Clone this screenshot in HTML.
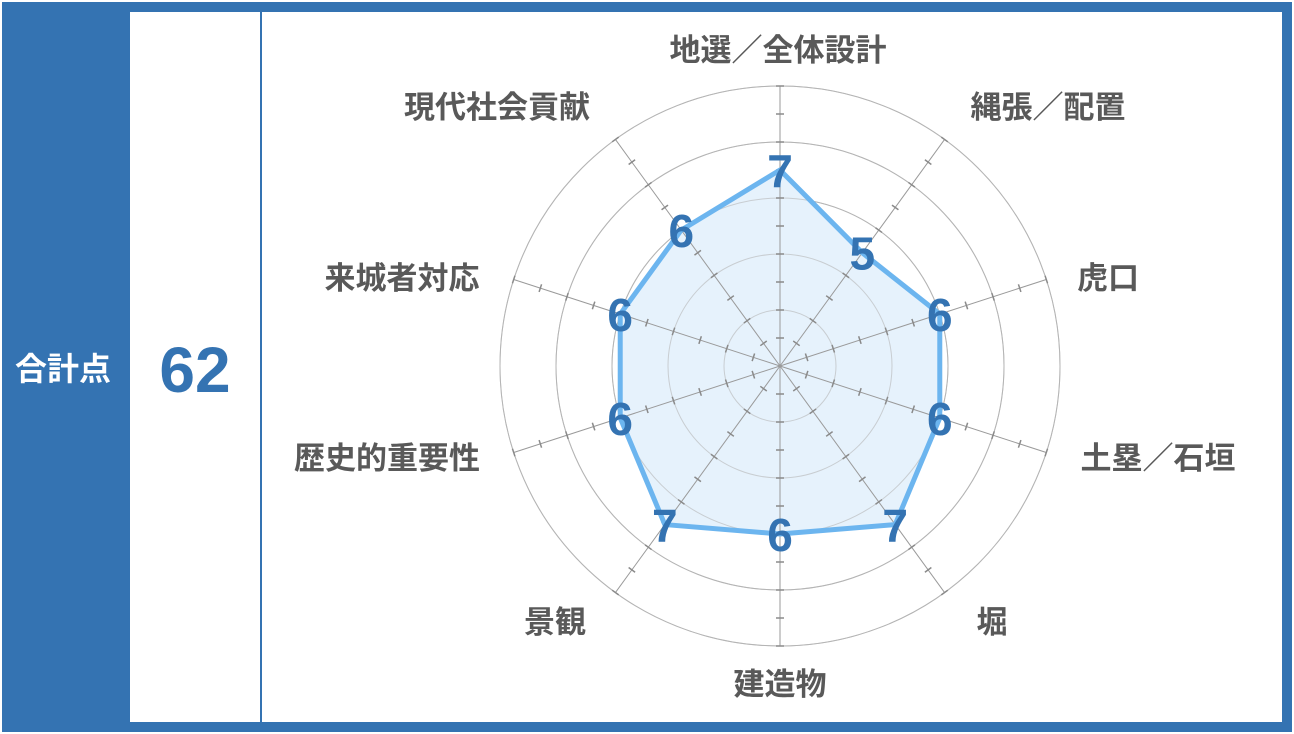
<!DOCTYPE html>
<html><head><meta charset="utf-8"><style>
html,body{margin:0;padding:0;background:#fff;}
svg{display:block;}
</style></head><body>
<svg width="1294" height="734" viewBox="0 0 1294 734" xmlns="http://www.w3.org/2000/svg" font-family="Liberation Sans, Noto Sans CJK JP, sans-serif">
<rect x="0" y="0" width="1294" height="734" fill="#fff"/>
<rect x="2" y="2" width="1290" height="730" fill="#3473b2"/>
<rect x="130" y="12" width="1152" height="710" fill="#fff"/>
<rect x="260" y="12" width="2" height="710" fill="#3473b2"/>
<text x="63" y="380" fill="#fff" font-size="32" font-weight="bold" text-anchor="middle">合計点</text>
<text x="195" y="392" fill="#3473b2" font-size="64" font-weight="bold" text-anchor="middle">62</text>
<g id="chart"></g>
<script>
(function(){
var cx=780,cy=366,ns="http://www.w3.org/2000/svg",g=document.getElementById('chart');
function el(t,a,txt){var e=document.createElementNS(ns,t);for(var k in a)e.setAttribute(k,a[k]);if(txt)e.textContent=txt;g.appendChild(e);return e;}
for(var i=1;i<=5;i++)el('circle',{cx:cx,cy:cy,r:56*i,fill:'none',stroke:'#b4b4b4','stroke-width':1});
var vals=[7,5,6,6,7,6,7,6,6,6];
var pts=[];
for(var k=0;k<10;k++){var a=k*Math.PI/5;var s=Math.sin(a),c=-Math.cos(a);pts.push([cx+s*28*vals[k],cy+c*28*vals[k]]);}
el('polygon',{points:pts.map(function(p){return p.join(',')}).join(' '),fill:'#e6f2fc',stroke:'none'});
for(var i=1;i<=5;i++)el('circle',{cx:cx,cy:cy,r:56*i,fill:'none',stroke:'#b4b4b4','stroke-width':1,opacity:0.6});
for(var k=0;k<10;k++){var a=k*Math.PI/5;var s=Math.sin(a),c=-Math.cos(a);
el('line',{x1:cx,y1:cy,x2:cx+s*280,y2:cy+c*280,stroke:'#9a9a9a','stroke-width':1});
for(var t=1;t<=10;t++){var r=28*t,px=cx+s*r,py=cy+c*r;el('line',{x1:px-c*4,y1:py+s*4,x2:px+c*4,y2:py-s*4,stroke:'#8a8a8a','stroke-width':1.5});}}
el('polygon',{points:pts.map(function(p){return p.join(',')}).join(' '),fill:'none',stroke:'#6cb5ef','stroke-width':5,'stroke-linejoin':'round'});
for(var k=0;k<10;k++)el('text',{x:pts[k][0],y:pts[k][1]+17,fill:'#3473b2','font-size':46,'font-weight':'bold','text-anchor':'middle'},String(vals[k]));
var L=[['地選／全体設計',778,61],['縄張／配置',1048,118],['虎口',1108,289],['土塁／石垣',1158,469],['堀',992,633],['建造物',780,695],['景観',555,633],['歴史的重要性',387,469],['来城者対応',402,289],['現代社会貢献',497,118]];
L.forEach(function(l){el('text',{x:l[1],y:l[2],fill:'#595959','font-size':31,'font-weight':'bold','text-anchor':'middle'},l[0]);});
})();
</script>
</svg>
</body></html>
